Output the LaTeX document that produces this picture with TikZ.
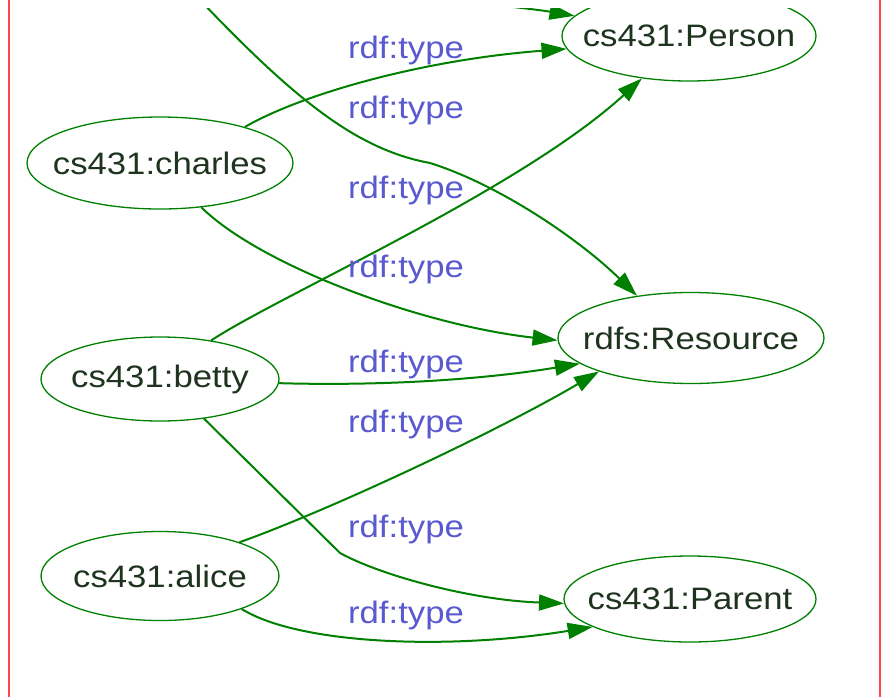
\documentclass[tikz,border=0pt]{standalone}
\usepackage{fontspec}
\setmainfont{Liberation Sans}[FakeStretch=1.12]
\usepackage{tikz}
\usetikzlibrary{arrows.meta,shapes.geometric}

\definecolor{edgegreen}{RGB}{0,128,0}
\definecolor{nodetext}{RGB}{30,52,30}
\definecolor{lblblue}{RGB}{90,90,208}
\definecolor{sidered}{RGB}{255,70,70}

\begin{document}
\begin{tikzpicture}[x=1pt, y=-1pt,
  cls/.style={draw=edgegreen, line width=1.3pt, ellipse, inner xsep=-40pt,
              inner ysep=0pt, text=nodetext, font=\fontsize{31}{36}\selectfont},
  lbl/.style={anchor=base, text=lblblue, font=\fontsize{31}{36}\selectfont},
  ar/.style={-{Triangle[length=25pt,width=16pt]}, draw=edgegreen, line width=2pt},
  redline/.style={draw=sidered, line width=1.6pt}]
\useasboundingbox (0,0) rectangle (885,697);
\draw[redline] (9,0) -- (9,697);
\draw[redline] (880,0) -- (880,697);

\begin{scope}
\clip (0,8) rectangle (885,697);
% classes on the right, individuals on the left
\node[cls, minimum width=254pt, minimum height=90pt] (person) at (689,36) {cs431:Person};
\node[cls, minimum width=266pt, minimum height=91pt] (resource) at (691,338) {rdfs:Resource};
\node[cls, minimum width=252pt, minimum height=86pt] (parent) at (690,599) {cs431:Parent};
\node[cls, minimum width=266pt, minimum height=92pt] (charles) at (160,163) {cs431:charles};
\node[cls, minimum width=238pt, minimum height=84pt] (betty) at (160,379) {cs431:betty};
\node[cls, minimum width=238pt, minimum height=89pt] (alice) at (160,576) {cs431:alice};
\coordinate (inA) at (200,0);
\coordinate (inB) at (440,0);

\draw[ar] (inA) .. controls (300,105) and (360,150) .. (430,163)
          .. controls (500,185) and (580,240) .. (resource.142);
\draw[ar] (inB) .. controls (500,5) and (540,10) .. (person.170);
\draw[ar] (charles.23) .. controls (300,95) and (420,60) .. (person.186);
\draw[ar] (charles.-47) .. controls (260,265) and (420,325) .. (resource.181);
\draw[ar] (betty.37) .. controls (280,295) and (520,190) .. (person.222);
\draw[ar] (betty.-2) .. controls (380,386) and (480,380) .. (resource.193);
\draw[ar] (betty.-42) -- (340,553) .. controls (380,575) and (470,600) .. (parent.182);
\draw[ar] (alice.23) .. controls (330,510) and (500,430) .. (resource.200);
\draw[ar] (alice.-22) .. controls (300,645) and (450,650) .. (parent.196);

% edge labels
\node[lbl] (t1) at (406,58) {rdf:type};
\node[lbl] (t2) at (406,118) {rdf:type};
\node[lbl] (t3) at (406,198) {rdf:type};
\node[lbl] (t4) at (406,277) {rdf:type};
\node[lbl] (t5) at (406,372) {rdf:type};
\node[lbl] (t6) at (406,432) {rdf:type};
\node[lbl] (t7) at (406,537) {rdf:type};
\node[lbl] (t8) at (406,623) {rdf:type};
\end{scope}
\end{tikzpicture}
\end{document}
